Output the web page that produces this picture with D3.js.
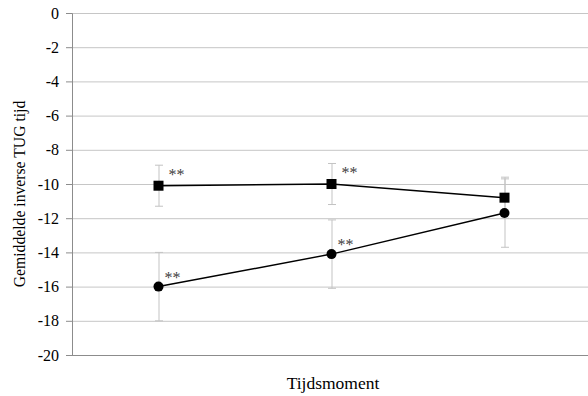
<!DOCTYPE html>
<html>
<head>
<meta charset="utf-8">
<script src="https://cdn.jsdelivr.net/npm/d3@7"></script>
<style>
  body { margin: 0; background: #fff; }
</style>
</head>
<body>
<div id="chart"></div>
<script>
// data
var moments = ["T1", "T2", "T3"];
var squareVals = [-10.1, -10.0, -10.8];
var squareErr = [1.2, 1.2, 1.2];
var circleVals = [-16.0, -14.1, -11.7];
var circleErr = [2.0, 2.0, 2.0];
var squareStars = ["**", "**", ""];
var circleStars = ["**", "**", ""];
var yTicks = [0, -2, -4, -6, -8, -10, -12, -14, -16, -18, -20];

var serif = "'Liberation Serif'";
var width = 588, height = 396;
var plotLeft = 72, plotRight = 591, plotTop = 13, plotBottom = 355;

var svg = d3.select("#chart").append("svg")
  .attr("width", width)
  .attr("height", height)
  .style("font-family", serif);

var xScale = d3.scalePoint().domain(moments).range([plotLeft, plotRight]).padding(0.5);
var yScale = d3.scaleLinear().domain([-20, 0]).range([plotBottom, plotTop]);

// gridlines
svg.append("g").selectAll("line")
  .data(yTicks.filter(function(d) { return d != -20; }))
  .enter().append("line")
  .attr("x1", plotLeft).attr("x2", plotRight)
  .attr("y1", function(d) { return yScale(d) + 0.5; })
  .attr("y2", function(d) { return yScale(d) + 0.5; })
  .attr("stroke", "#c6c6c6")
  .attr("stroke-width", 1);

var yAxis = d3.axisLeft(yScale).tickValues(yTicks).tickSize(6).tickPadding(7)
  .tickFormat(function(d) { return d == 0 ? "0" : "-" + Math.abs(d); });
var gy = svg.append("g")
  .attr("transform", "translate(" + plotLeft + ",0)")
  .call(yAxis);
gy.select(".domain").attr("stroke", "#8c8c8c");
gy.selectAll(".tick line").attr("stroke", "#8c8c8c");
gy.selectAll(".tick text")
  .style("font-family", serif)
  .style("font-size", "16px")
  .attr("fill", "#000");

// bottom axis line
svg.append("line")
  .attr("x1", plotLeft).attr("x2", plotRight)
  .attr("y1", yScale(-20) + 0.5).attr("y2", yScale(-20) + 0.5)
  .attr("stroke", "#8c8c8c");

function drawErrors(vals, errs) {
  var g = svg.append("g").attr("stroke", "#c3c3c3").attr("stroke-width", 1);
  vals.forEach(function(v, i) {
    var x = xScale(moments[i]) + 0.5;
    g.append("line").attr("x1", x).attr("x2", x)
      .attr("y1", yScale(v + errs[i])).attr("y2", yScale(v - errs[i]));
    g.append("line").attr("x1", x - 4).attr("x2", x + 4)
      .attr("y1", yScale(v + errs[i])).attr("y2", yScale(v + errs[i]));
    g.append("line").attr("x1", x - 4).attr("x2", x + 4)
      .attr("y1", yScale(v - errs[i])).attr("y2", yScale(v - errs[i]));
  });
}
drawErrors(squareVals, squareErr);
drawErrors(circleVals, circleErr);

var line = d3.line()
  .x(function(d, i) { return xScale(moments[i]); })
  .y(function(d) { return yScale(d); });

svg.append("path").attr("d", line(squareVals))
  .attr("stroke", "#000").attr("stroke-width", 1.5).attr("fill", "none");
svg.append("path").attr("d", line(circleVals))
  .attr("stroke", "#000").attr("stroke-width", 1.5).attr("fill", "none");

svg.append("g").selectAll("rect")
  .data(squareVals).enter().append("rect")
  .attr("x", function(d, i) { return xScale(moments[i]) - 5; })
  .attr("y", function(d) { return yScale(d) - 5; })
  .attr("width", 10).attr("height", 10)
  .attr("fill", "#000");

svg.append("g").selectAll("circle")
  .data(circleVals).enter().append("circle")
  .attr("cx", function(d, i) { return xScale(moments[i]); })
  .attr("cy", function(d) { return yScale(d); })
  .attr("r", 5)
  .attr("fill", "#000");

// significance stars
svg.append("g").selectAll("text")
  .data(squareStars).enter().append("text")
  .attr("x", function(d, i) { return xScale(moments[i]) + 10; })
  .attr("y", function(d, i) { return yScale(squareVals[i]) - 6; })
  .style("font-family", serif).style("font-size", "16px")
  .attr("fill", "#404040")
  .text(function(d) { return d; });
svg.append("g").selectAll("text")
  .data(circleStars).enter().append("text")
  .attr("x", function(d, i) { return xScale(moments[i]) + 6; })
  .attr("y", function(d, i) { return yScale(circleVals[i]) - 4; })
  .style("font-family", serif).style("font-size", "16px")
  .attr("fill", "#404040")
  .text(function(d) { return d; });

// axis titles
svg.append("text")
  .attr("transform", "translate(25,194) rotate(-90)")
  .attr("text-anchor", "middle")
  .style("font-family", serif).style("font-size", "15.7px")
  .text("Gemiddelde inverse TUG tijd");

svg.append("text")
  .attr("x", 333).attr("y", 389)
  .attr("text-anchor", "middle")
  .style("font-family", serif).style("font-size", "17.5px")
  .text("Tijdsmoment");
</script>
</body>
</html>
